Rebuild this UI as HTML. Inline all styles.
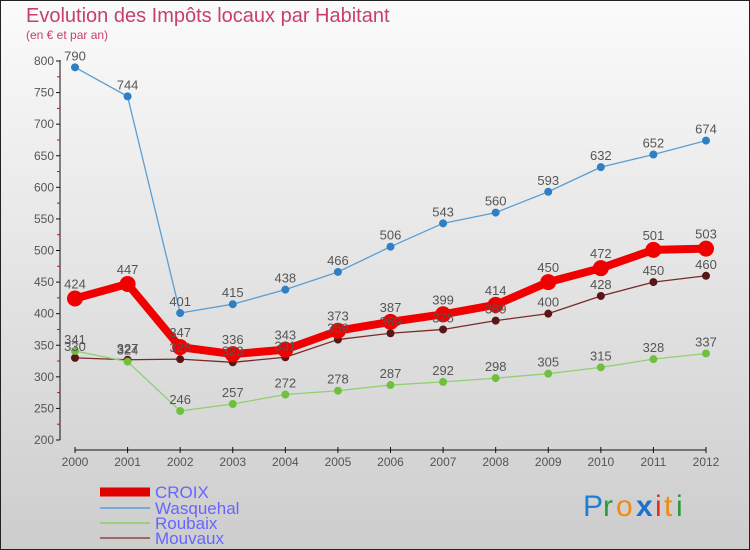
<!DOCTYPE html>
<html><head><meta charset="utf-8"><style>
body{margin:0;width:750px;height:550px;overflow:hidden;font-family:"Liberation Sans",sans-serif}
svg{display:block}
</style></head><body>
<svg id="chart" width="750" height="550" xmlns="http://www.w3.org/2000/svg">
<defs><linearGradient id="bg" x1="0" y1="0" x2="0" y2="1"><stop offset="0" stop-color="#fbfbfb"/><stop offset="1" stop-color="#cdcdcd"/></linearGradient></defs>
<rect x="0.5" y="0.5" width="749" height="549" fill="url(#bg)" stroke="#222"/>
<text x="26" y="22" font-size="20" fill="#c8406a">Evolution des Impôts locaux par Habitant</text>
<text x="26" y="39" font-size="12" fill="#c8406a">(en € et par an)</text>
<g id="axes"></g><g id="series"></g><g id="labels"></g><g id="legend"></g>
<g font-size="30" font-family="Liberation Sans, sans-serif">
<text x="583" y="516" fill="#1f7fd6">P</text><text x="603" y="516" fill="#2a9a3a">r</text><text x="616" y="516" fill="#f08a10">o</text><text x="636" y="516" fill="#1f6fd0" font-weight="bold">x</text><text x="655" y="516" fill="#e03020">i</text><text x="664" y="516" fill="#f08a10">t</text><text x="676" y="516" fill="#2a9a3a">i</text>
</g>
</svg>
<script>
const years=[2000,2001,2002,2003,2004,2005,2006,2007,2008,2009,2010,2011,2012];
const croix=[424,447,347,336,343,373,387,399,414,450,472,501,503];
const wasquehal=[790,744,401,415,438,466,506,543,560,593,632,652,674];
const roubaix=[341,324,246,257,272,278,287,292,298,305,315,328,337];
const mouvaux=[330,327,328,323,331,359,369,375,389,400,428,450,460];
const yTicks=[200,250,300,350,400,450,500,550,600,650,700,750,800];
const NS="http://www.w3.org/2000/svg";
const X=i=>75+i*(706-75)/12;
const Y=v=>440-(v-200)*(440-61)/600;
function mk(tag,attrs,parent,txt){const e=document.createElementNS(NS,tag);for(const k in attrs)e.setAttribute(k,attrs[k]);if(txt!==undefined)e.textContent=txt;parent.appendChild(e);return e;}
const axes=document.getElementById('axes');
let l=mk('line',{x1:60,y1:Y(800)-1,x2:60,y2:Y(200),stroke:'#111'},axes);


yTicks.forEach(t=>{
 mk('line',{x1:56,x2:60,y1:Y(t),y2:Y(t),stroke:'#111'},axes);
 if(t<800)mk('line',{x1:57,x2:60,y1:Y(t+25),y2:Y(t+25),stroke:'#e00'},axes);
 const tx=mk('text',{x:54,y:Y(t)+4,'text-anchor':'end','font-size':12,fill:'#555'},axes,t);
 
 
});
l=mk('line',{x1:75,y1:450,x2:706,y2:450,stroke:'#111'},axes);


years.forEach((yr,i)=>{
 mk('line',{x1:X(i),x2:X(i),y1:447,y2:453,stroke:'#111'},axes);
 const tx=mk('text',{x:X(i),y:466,'text-anchor':'middle','font-size':12,fill:'#555'},axes,yr);
 
 
});
const ser=document.getElementById('series');
const lab=document.getElementById('labels');
const defs=[
 {n:'mouvaux',d:mouvaux,c:'#7a2a2a',pc:'#5a1515',w:1.3,r:4},
 {n:'roubaix',d:roubaix,c:'#90d070',pc:'#70c040',w:1.3,r:4},
 {n:'wasquehal',d:wasquehal,c:'#5a9fd4',pc:'#2f7fc4',w:1.3,r:4},
 {n:'croix',d:croix,c:'#f00000',pc:'#f00000',w:8,r:8}
];
defs.forEach(s=>{
 const g=mk('g',{},ser);
 
 
 const pl=mk('polyline',{points:s.d.map((v,i)=>X(i)+','+Y(v)).join(' '),fill:'none',stroke:s.c,'stroke-width':s.w,'stroke-linejoin':'round'},g);
 
 
 s.d.forEach((v,i)=>{
  const c=mk('circle',{cx:X(i),cy:Y(v),r:s.r,fill:s.pc},g);
  
  
  const t=mk('text',{x:X(i),y:Y(v)-(s.r>5?10:7),'text-anchor':'middle','font-size':13,fill:'#555'},lab,v);
  
  
 });
});
const lg=document.getElementById('legend');
[['CROIX','#e00000',9,492],['Wasquehal','#7aaad0',2,508],['Roubaix','#98d080',2,523],['Mouvaux','#9a6a6a',2,538]].forEach(e=>{
 const g=mk('g',{},lg);
 
 
 mk('line',{x1:100,x2:150,y1:e[3],y2:e[3],stroke:e[1],'stroke-width':e[2]},g);
 mk('text',{x:155,y:e[3]+6,'font-size':17,fill:'#6666ff'},g,e[0]);
});
</script>
</body></html>
